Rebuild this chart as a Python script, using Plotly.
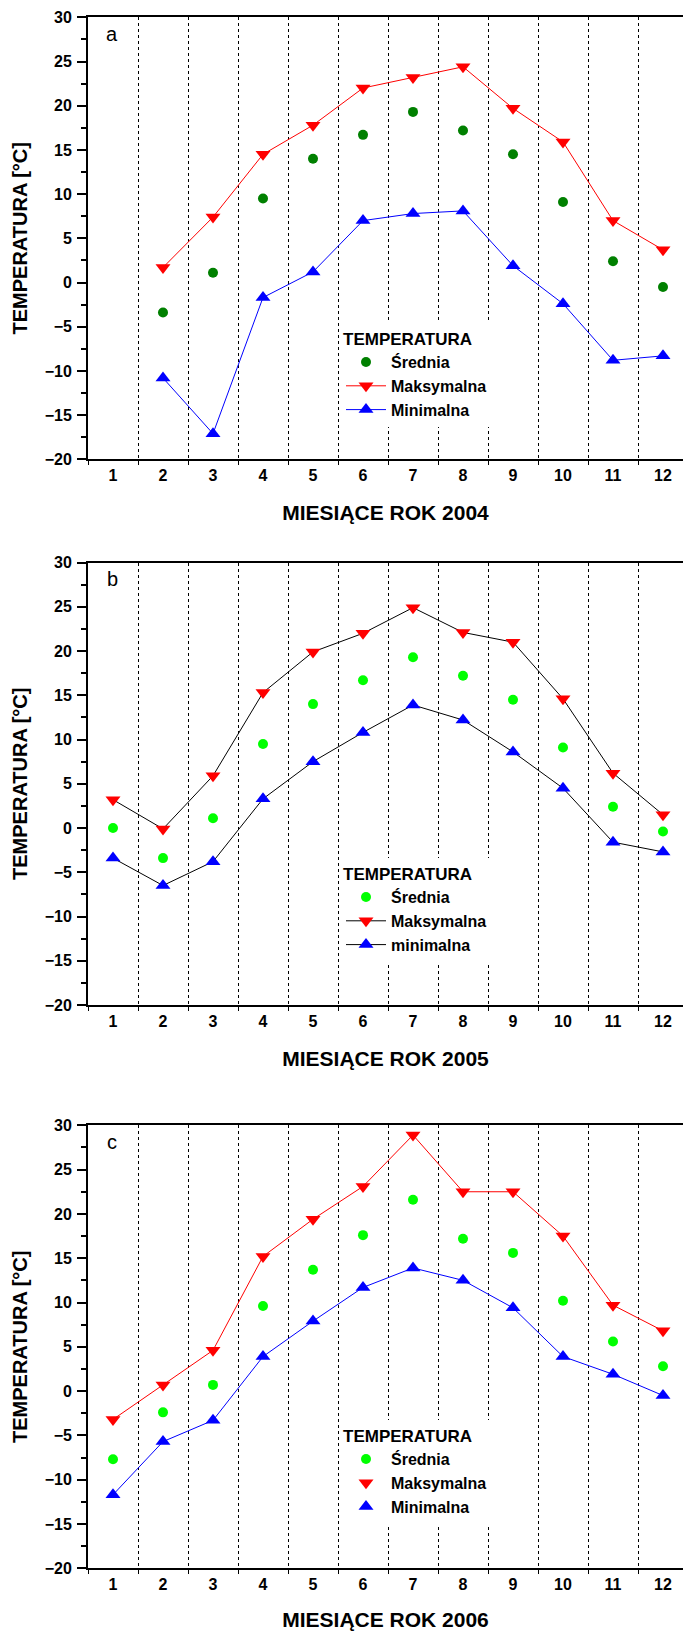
import plotly.graph_objects as go
from plotly.subplots import make_subplots

months = [1, 2, 3, 4, 5, 6, 7, 8, 9, 10, 11, 12]

# 2004 (no January data)
months_2004 = [2, 3, 4, 5, 6, 7, 8, 9, 10, 11, 12]
mean_2004 = [-3.4, 1.1, 9.5, 14.0, 16.7, 19.3, 17.2, 14.5, 9.1, 2.4, -0.5]
max_2004 = [1.7, 7.4, 14.5, 17.8, 22.0, 23.2, 24.4, 19.7, 15.9, 7.0, 3.7]
min_2004 = [-10.8, -17.1, -1.7, 1.2, 7.0, 7.8, 8.1, 1.9, -2.4, -8.8, -8.3]

# 2005
mean_2005 = [0.0, -3.4, 1.1, 9.5, 14.0, 16.7, 19.3, 17.2, 14.5, 9.1, 2.4, -0.4]
max_2005 = [3.2, -0.1, 5.9, 15.3, 19.9, 22.0, 24.9, 22.1, 21.0, 14.6, 6.2, 1.5]
min_2005 = [-3.4, -6.5, -3.8, 3.3, 7.5, 10.8, 13.9, 12.2, 8.6, 4.5, -1.6, -2.7]

# 2006
mean_2006 = [-7.7, -2.4, 0.7, 9.6, 13.7, 17.6, 21.6, 17.2, 15.6, 10.2, 5.6, 2.8]
max_2006 = [-3.2, 0.7, 4.6, 15.2, 19.4, 23.1, 28.9, 22.5, 22.5, 17.5, 9.7, 6.8]
min_2006 = [-11.7, -5.7, -3.3, 3.9, 7.9, 11.7, 13.9, 12.5, 9.4, 3.9, 1.9, -0.5]

W, H = 683, 1631
ML = 88
FONT = "Liberation Sans, Arial, sans-serif"

def frac(px):
    return 1 - px / H

# plot area tops / bottoms in pixels
panels = [(17.3, 459.3), (562.5, 1005.0), (1125.3, 1568.3)]

fig = make_subplots(rows=3, cols=1)

def add_panel(row, legend, x, mean, mx, mn, mean_color, line_max, line_min, min_name):
    fig.add_trace(go.Scatter(
        x=x, y=mean, mode="markers", name="Średnia",
        marker=dict(symbol="circle", size=10, color=mean_color),
        legend=legend), row=row, col=1)
    if min_name:
        fig.add_trace(go.Scatter(
            x=x, y=mx, mode="lines+markers", name="Maksymalna",
            line=dict(color=line_max, width=1),
            marker=dict(symbol="triangle-down", size=13, color="#ff0000"),
            legend=legend), row=row, col=1)
        fig.add_trace(go.Scatter(
            x=x, y=mn, mode="lines+markers", name=min_name,
            line=dict(color=line_min, width=1),
            marker=dict(symbol="triangle-up", size=13, color="#0000ff"),
            legend=legend), row=row, col=1)
    else:
        # 2006: lines drawn separately, legend shows symbols only
        fig.add_trace(go.Scatter(
            x=x, y=mx, mode="lines", showlegend=False,
            line=dict(color=line_max, width=1)), row=row, col=1)
        fig.add_trace(go.Scatter(
            x=x, y=mn, mode="lines", showlegend=False,
            line=dict(color=line_min, width=1)), row=row, col=1)
        fig.add_trace(go.Scatter(
            x=x, y=mx, mode="markers", name="Maksymalna",
            marker=dict(symbol="triangle-down", size=13, color="#ff0000"),
            legend=legend), row=row, col=1)
        fig.add_trace(go.Scatter(
            x=x, y=mn, mode="markers", name="Minimalna",
            marker=dict(symbol="triangle-up", size=13, color="#0000ff"),
            legend=legend), row=row, col=1)

add_panel(1, "legend", months_2004, mean_2004, max_2004, min_2004,
          "#008000", "#ff0000", "#0000ff", "Minimalna")
add_panel(2, "legend2", months, mean_2005, max_2005, min_2005,
          "#00ff00", "#000000", "#000000", "minimalna")
add_panel(3, "legend3", months, mean_2006, max_2006, min_2006,
          "#00ff00", "#ff0000", "#0000ff", None)

titles = ["MIESIĄCE ROK 2004", "MIESIĄCE ROK 2005", "MIESIĄCE ROK 2006"]
letters = ["a", "b", "c"]

for i, (top, bot) in enumerate(panels, start=1):
    fig.update_xaxes(
        row=i, col=1,
        range=[0.5, 12.4], tickvals=months, ticks="",
        showline=True, linecolor="black", linewidth=1.8, mirror=True,
        showgrid=False, zeroline=False,
        tickfont=dict(family=FONT, size=16, color="black", weight="bold"),
        ticklabelstandoff=1,
        minor=dict(tick0=0.5, dtick=1, ticks="outside", ticklen=4,
                   tickcolor="black", showgrid=True, gridcolor="black",
                   griddash="dot", gridwidth=1),
        title=dict(text=titles[i - 1], standoff=22,
                   font=dict(family=FONT, size=21, color="black", weight="bold")),
        automargin=False,
    )
    fig.update_yaxes(
        row=i, col=1,
        domain=[frac(bot), frac(top)],
        range=[-20, 30], dtick=5, ticks="outside", ticklen=9,
        tickcolor="black", tickwidth=1.5,
        showline=True, linecolor="black", linewidth=1.8,
        showgrid=False, zeroline=False,
        tickfont=dict(family=FONT, size=16, color="black", weight="bold"),
        ticklabelstandoff=2,
        minor=dict(dtick=2.5, ticks="outside", ticklen=5, tickcolor="black",
                   showgrid=False),
        title=dict(text="TEMPERATURA [°C]", standoff=12,
                   font=dict(family=FONT, size=20, color="black", weight="bold")),
        automargin=False,
    )
    xref = "x domain" if i == 1 else f"x{i} domain"
    yref = "y domain" if i == 1 else f"y{i} domain"
    fig.add_annotation(text=letters[i - 1], xref=xref, yref=yref,
                       x=0.041, y=1 - (34 - 17.3) / 442, showarrow=False,
                       xanchor="center", yanchor="middle",
                       font=dict(family=FONT, size=20, color="black"))

# right-hand inward ticks (the right frame itself lies just outside the page)
right_axes = {}
for i, (top, bot) in enumerate(panels, start=1):
    xname = "x" if i == 1 else f"x{i}"
    yname = "y" if i == 1 else f"y{i}"
    right_axes[f"yaxis{i + 3}"] = dict(
        overlaying=yname, anchor=xname, side="right",
        range=[-20, 30], dtick=5, ticks="inside", ticklen=5,
        tickcolor="black", tickwidth=1.5, showticklabels=False,
        showline=False, showgrid=False, zeroline=False,
    )

legend_tops = [323, 858, 1420]
legend_title = dict(text="TEMPERATURA",
                    font=dict(family=FONT, size=17, color="black", weight="bold"))
legend_common = dict(
    xanchor="left", yanchor="top", x=(341 - ML) / (W - ML),
    bgcolor="white", borderwidth=0, itemwidth=40,
    font=dict(family=FONT, size=16, color="black", weight="bold"),
    tracegroupgap=0, title=legend_title,
)
fig.update_layout(
    width=W, height=H,
    margin=dict(l=ML, r=0, t=0, b=0),
    plot_bgcolor="white", paper_bgcolor="white",
    legend=dict(y=frac(legend_tops[0]), **legend_common),
    legend2=dict(y=frac(legend_tops[1]), **legend_common),
    legend3=dict(y=frac(legend_tops[2]), **legend_common),
    **right_axes,
)

fig.write_html("out.html", config={"displayModeBar": False},
               post_script="document.body.style.margin='0';")
